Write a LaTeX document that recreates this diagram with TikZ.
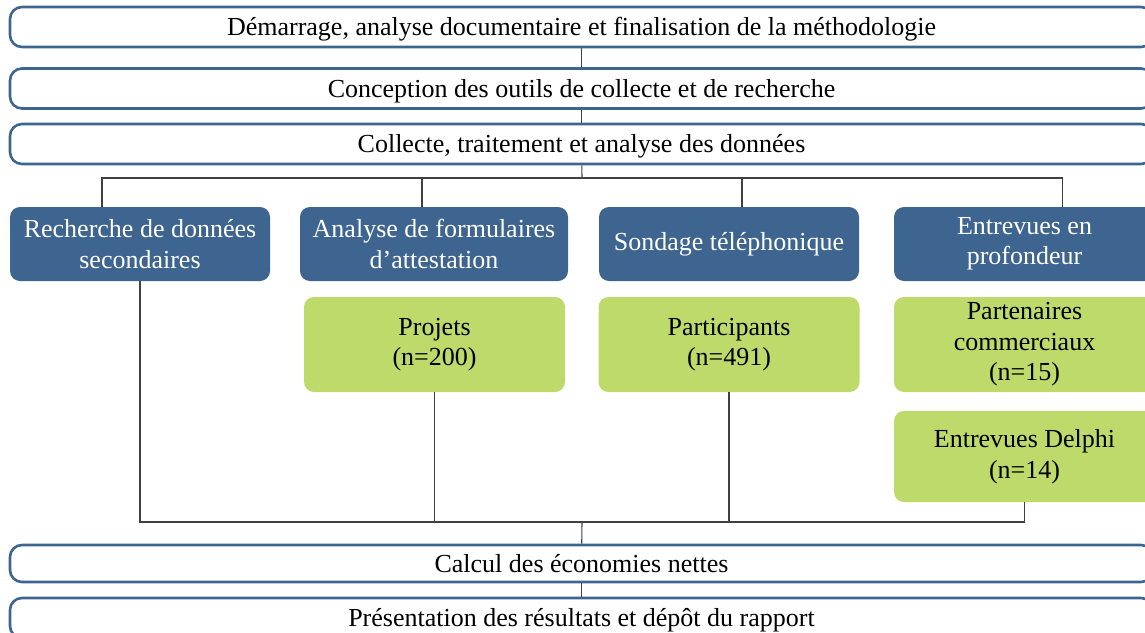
\documentclass[tikz,border=0pt]{standalone}
\usepackage{fontspec}
\setmainfont{Liberation Serif}
\usetikzlibrary{positioning, calc}
\definecolor{boxblue}{HTML}{3E6490}
\definecolor{leafgreen}{HTML}{BDDA6B}
\definecolor{wirecol}{HTML}{404040}

\begin{document}
\begin{tikzpicture}[x=1pt, y=-1pt, font=\fontsize{26}{30.5}\selectfont,
  phase/.style={draw=boxblue, line width=2.6pt, rounded corners=12pt, minimum width=1143pt, minimum height=40pt, inner sep=0pt, text depth=1pt},
  volet/.style={fill=boxblue, text=white, rounded corners=10pt, minimum height=74pt, inner sep=0pt, align=center},
  echant/.style={fill=leafgreen, rounded corners=10pt, minimum width=261pt, inner sep=0pt, align=center},
  wire/.style={draw=wirecol, line width=1.1pt}]
\useasboundingbox (0,0) rectangle (1145,632);
% phases du mandat
\node[phase] (demarrage) at (581.5,27) {Démarrage, analyse documentaire et finalisation de la méthodologie};
\node[phase] (conception) at (581.5,88.5) {Conception des outils de collecte et de recherche};
\node[phase] (collecte) at (581.5,144) {Collecte, traitement et analyse des données};
\node[phase, minimum height=37pt] (calcul) at (581.5,563.5) {Calcul des économies nettes};
\node[phase] (presentation) at (581.5,618) {Présentation des résultats et dépôt du rapport};
% volets de collecte
\node[volet, minimum width=260pt] (recherche) at (140,244) {Recherche de données\\secondaires};
\node[volet, minimum width=268pt] (formulaires) at (434,244) {Analyse de formulaires\\d’attestation};
\node[volet, minimum width=260pt] (sondage) at (729,244) {Sondage téléphonique};
\node[volet, minimum width=261pt] (profondeur) at (1024.5,244) {Entrevues en\\profondeur};
% echantillons
\node[echant, minimum height=95pt] (projets) at (434.5,344.5) {Projets\\(n=200)};
\node[echant, minimum height=95pt] (participants) at (729,344.5) {Participants\\(n=491)};
\node[echant, minimum height=95pt] (partenaires) at (1024.5,344.5) {Partenaires\\commerciaux\\(n=15)};
\node[echant, minimum height=91pt] (delphi) at (1024.5,456.5) {Entrevues Delphi\\(n=14)};
% liens
\coordinate (busT) at (582,178);
\coordinate (busB) at (582,522);
\draw[wire] (demarrage) -- (conception);
\draw[wire] (conception) -- (collecte);
\draw[wire] (collecte) -- (busT);
\draw[wire] ([xshift=-38pt]recherche.north) |- (busT) -| ([xshift=38pt]profondeur.north);
\draw[wire] ([xshift=-12pt]formulaires.north) -- ([xshift=-12pt]formulaires.north |- busT);
\draw[wire] ([xshift=13pt]sondage.north) -- ([xshift=13pt]sondage.north |- busT);
\draw[wire] (recherche) |- (busB) -| (delphi);
\draw[wire] (projets) -- (projets |- busB);
\draw[wire] (participants) -- (participants |- busB);
\draw[wire] (busB) -- (calcul);
\draw[wire] (calcul) -- (presentation);
\end{tikzpicture}
\end{document}
